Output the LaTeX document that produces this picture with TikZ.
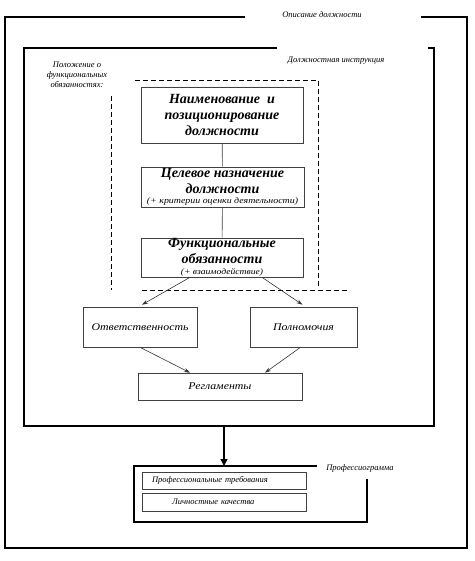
\documentclass[tikz,border=0pt]{standalone}
\usepackage{fontspec}
\setmainfont{Liberation Serif}
\newfontfamily\widefont[FakeStretch=1.15]{Liberation Serif}
\usetikzlibrary{arrows.meta,calc}
\begin{document}
\begin{tikzpicture}[x=1pt,y=-1pt,
  frame/.style={line width=1.6pt},
  dashline/.style={line width=0.8pt, dash pattern=on 5pt off 3pt},
  box/.style={draw=black!75, line width=0.6pt, rectangle, inner sep=0pt, align=center},
  titlefont/.style={font=\fontsize{14}{16}\selectfont\bfseries\itshape},
  plainfont/.style={font=\widefont\fontsize{10.3}{12}\selectfont\itshape},
  smallfont/.style={font=\fontsize{8.5}{10}\selectfont\itshape},
  arr/.style={-{Stealth[length=6pt,width=4pt]}, line width=0.6pt, draw=black!80},
  link/.style={line width=0.6pt, draw=black!75},
  bigarr/.style={-{Triangle[length=7pt,width=7pt]}, line width=1.6pt}
]
\useasboundingbox (0,0) rectangle (474,561);

% outer frame: Описание должности
\draw[frame] (245,17) -- (5,17) -- (5,548) -- (467,548) -- (467,17) -- (421,17);
\node[smallfont] (lopis) at (322,15) {Описание должности};

% inner frame: Должностная инструкция
\draw[frame] (277,48) -- (24,48) -- (24,426) -- (434,426) -- (434,48) -- (428,48);
\node[smallfont] (ldi) at (336,61) {Должностная инструкция};

% dashed region: Положение о функциональных обязанностях
\draw[dashline] (135,80) -- (318,80) -- (318,287);
\draw[dashline] (111,96) -- (111,290);
\draw[dashline] (142,290) -- (348,290);
\node[smallfont, align=center] (lpol) at (77,75) {Положение о\\функциональных\\обязанностях:};

% boxes
\node[box, titlefont, minimum width=162pt, minimum height=56pt] (b1) at (222,115)
  {Наименование\ \ и\\позиционирование\\должности};
\node[box, titlefont, minimum width=163pt, minimum height=40pt] (b2) at (222.5,187)
  {Целевое назначение\\должности\\[-5.5pt]\widefont\fontsize{8.6}{8}\selectfont\mdseries\itshape(+ критерии оценки деятельности)};
\node[box, titlefont, minimum width=162pt, minimum height=39pt] (b3) at (222,257.5)
  {Функциональные\\обязанности\\[-5.5pt]\widefont\fontsize{8.4}{8}\selectfont\mdseries\itshape(+ взаимодействие)};

\node[box, plainfont, minimum width=114pt, minimum height=40pt] (otv) at (140,327) {Ответственность};
\node[box, plainfont, minimum width=107pt, minimum height=40pt] (poln) at (303.5,327) {Полномочия};
\node[box, plainfont, minimum width=164pt, minimum height=27pt] (regl) at (220,386.5) {Регламенты};

\draw[link] (b1) -- (b2);
\draw[link] (b2) -- (b3);
\draw[arr] ($(b3.south)+(-32,0)$) -- ($(otv.north)+(2,-2)$);
\draw[arr] ($(b3.south)+(40,0)$) -- ($(poln.north)+(-1,-2)$);
\draw[arr] ($(otv.south)+(0,0)$) -- ($(regl.north)+(-30,0)$);
\draw[arr] ($(poln.south)+(-3,0)$) -- ($(regl.north)+(45,0)$);

% Профессиограмма
\draw[frame] (317,466) -- (134,466) -- (134,522) -- (367,522) -- (367,479);
\node[smallfont] (lprof) at (360,468) {Профессиограмма};
\node[box, smallfont, minimum width=164pt, minimum height=17pt, text width=148pt, align=left] (preq) at (224,480.5)
  {\hspace*{2pt}Профессиональные требования};
\node[box, smallfont, minimum width=164pt, minimum height=18pt, text width=148pt, align=left] (lich) at (224,502)
  {\hspace*{22pt}Личностные качества};

\coordinate (innerbot) at (224,426);
\coordinate (proftop) at (224,466);
\draw[bigarr] (innerbot) -- (proftop);
\end{tikzpicture}
\end{document}
